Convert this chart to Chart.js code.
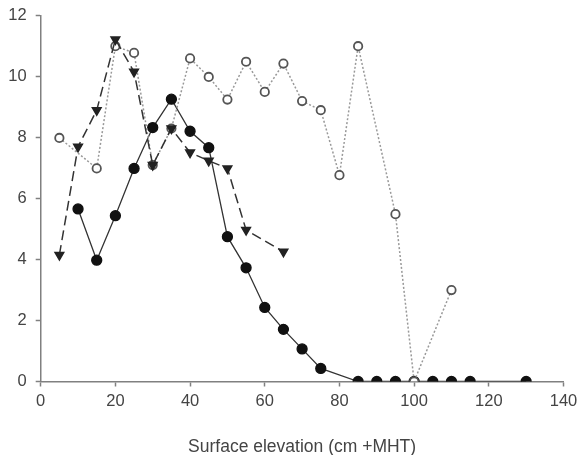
<!DOCTYPE html>
<html>
<head>
<meta charset="utf-8">
<script src="https://cdn.jsdelivr.net/npm/chart.js@4"></script>
<style>
  html, body { margin: 0; padding: 0; background: #fff; }
  #wrap { width: 579px; height: 455px; }
</style>
</head>
<body>
<div id="wrap"><canvas id="elevChart"></canvas></div>
<script>
// --- data ---
const filledX = [10, 15, 20, 25, 30, 35, 40, 45, 50, 55, 60, 65, 70, 75, 85, 90, 95, 100, 105, 110, 115, 130];
const filledY = [5.66, 3.98, 5.44, 6.99, 8.33, 9.26, 8.21, 7.67, 4.75, 3.73, 2.43, 1.71, 1.07, 0.43, 0, 0, 0, 0, 0, 0, 0, 0];

const triX = [5, 10, 15, 20, 25, 30, 35, 40, 45, 50, 55, 65];
const triY = [4.15, 7.7, 8.9, 11.22, 10.16, 7.1, 8.3, 7.51, 7.24, 6.99, 4.97, 4.26];

const openX = [5, 15, 20, 25, 30, 35, 40, 45, 50, 55, 60, 65, 70, 75, 80, 85, 95, 100, 110];
const openY = [7.99, 6.99, 11.0, 10.78, 7.1, 8.3, 10.6, 9.99, 9.25, 10.49, 9.5, 10.43, 9.2, 8.9, 6.77, 11.0, 5.49, 0, 3.0];

const xTicks = [0, 20, 40, 60, 80, 100, 120, 140];
const yTicks = [0, 2, 4, 6, 8, 10, 12];
const xTitle = 'Surface elevation (cm +MHT)';

const toPts = (xs, ys) => xs.map((x, i) => ({ x: x, y: ys[i] }));

const axisColor = '#808080';
const fontFam = 'Liberation Sans, Arial, sans-serif';
const tickFont = { family: fontFam, size: 16.5 };

// axis ticks only, no grid inside the plot
const axisGrid = {
    display: true, drawOnChartArea: false, drawTicks: true,
    tickLength: 5, tickWidth: 1.5, tickColor: axisColor
};

new Chart(document.getElementById('elevChart'), {
    type: 'line',
    data: {
        datasets: [
            {
                label: 'triangles',
                data: toPts(triX, triY),
                borderColor: '#333',
                borderWidth: 1.5,
                borderDash: [10, 5],
                pointStyle: 'triangle',
                rotation: 180,
                pointRadius: 5,
                pointBackgroundColor: '#222',
                pointBorderColor: '#222',
                order: 0
            },
            {
                label: 'open',
                data: toPts(openX, openY),
                borderColor: '#999',
                borderWidth: 1.5,
                borderDash: [2, 2],
                pointStyle: 'circle',
                pointRadius: 4.2,
                pointBorderWidth: 1.8,
                pointBackgroundColor: '#fff',
                pointBorderColor: '#555',
                order: 1
            },
            {
                label: 'filled',
                data: toPts(filledX, filledY),
                borderColor: '#333',
                borderWidth: 1.3,
                pointStyle: 'circle',
                pointRadius: 5,
                pointBackgroundColor: '#111',
                pointBorderColor: '#111',
                order: 2
            }
        ]
    },
    options: {
        responsive: true,
        maintainAspectRatio: false,
        animation: false,
        layout: { padding: { top: 15.7, right: 15.5, left: 0, bottom: 0 } },
        plugins: { legend: { display: false }, tooltip: { enabled: false } },
        scales: {
            x: {
                type: 'linear',
                min: 0, max: 140,
                afterBuildTicks: s => { s.ticks = xTicks.map(v => ({ value: v })); },
                afterFit: s => { s.height = 73.5; s.paddingLeft = 0; s.paddingRight = 0; },
                grid: axisGrid,
                border: { color: axisColor, width: 1.5 },
                ticks: { color: '#444', font: tickFont, padding: 5, maxRotation: 0 },
                title: { display: true, text: xTitle, color: '#444',
                         font: { family: fontFam, size: 17.5 },
                         padding: { top: 4, bottom: -2.5 } }
            },
            y: {
                min: 0, max: 12,
                afterBuildTicks: s => { s.ticks = yTicks.map(v => ({ value: v })); },
                afterFit: s => { s.width = 40.7; s.paddingTop = 0; s.paddingBottom = 0; },
                grid: axisGrid,
                border: { color: axisColor, width: 1.5 },
                ticks: { color: '#444', font: tickFont, padding: 9 }
            }
        }
    }
});
</script>
</body>
</html>
